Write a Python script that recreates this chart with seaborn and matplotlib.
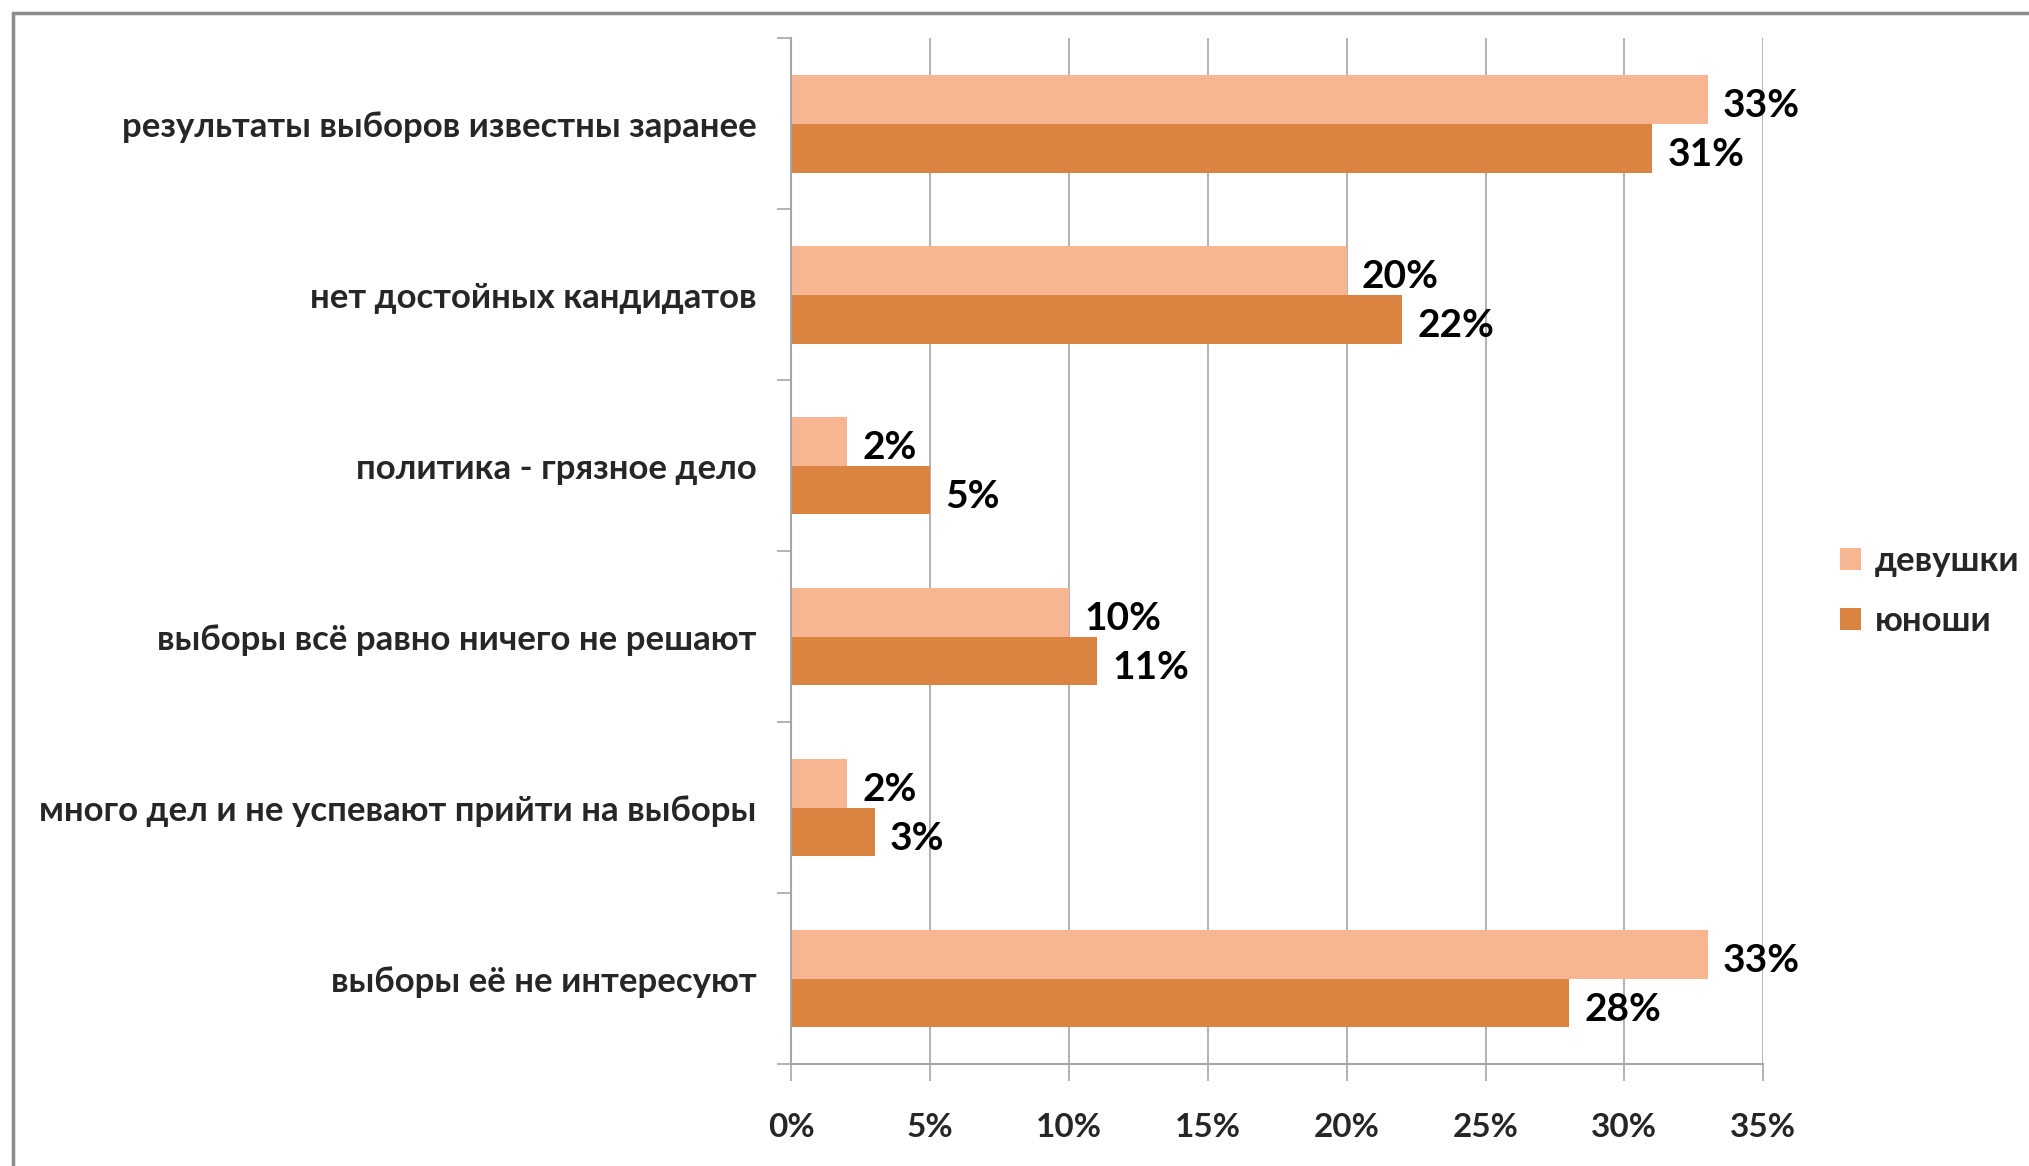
import pandas as pd
import numpy as np
import matplotlib
matplotlib.use("Agg")
import matplotlib.pyplot as plt
import seaborn as sns
from matplotlib.patches import Rectangle

# data (top to bottom)
categories = [
    "результаты выборов известны заранее",
    "нет достойных кандидатов",
    "политика - грязное дело",
    "выборы всё равно ничего не решают",
    "много дел и не успевают прийти на выборы",
    "выборы её не интересуют",
]
girls = [33, 20, 2, 10, 2, 33]
boys = [31, 22, 5, 11, 3, 28]
series_names = ["девушки", "юноши"]
x_ticks = [0, 5, 10, 15, 20, 25, 30, 35]

colors = ["#F8B592", "#DB8340"]

df = pd.DataFrame({
    "category": categories * 2,
    "value": girls + boys,
    "group": [series_names[0]] * len(categories) + [series_names[1]] * len(categories),
})

sns.set_style("white")
plt.rcParams["font.family"] = ["Lato", "DejaVu Sans"]
plt.rcParams["font.weight"] = "bold"

fig = plt.figure(figsize=(20.29, 11.66), dpi=100)
ax = fig.add_axes([0.390, 0.0875, 0.479, 0.8795])

sns.barplot(data=df, x="value", y="category", hue="group", orient="h",
            palette=colors, width=0.57, saturation=1, ax=ax,
            edgecolor="none", linewidth=0)

for cont in ax.containers:
    anns = ax.bar_label(cont, labels=[f"{v:.0f}%" for v in cont.datavalues],
                        padding=11, fontsize=28, fontweight="bold", color="black")
    # nudge the labels down a little, as in the original
    for a in anns:
        a.xyann = (a.xyann[0], -4.5)

ax.set_xlim(0, 35)
ax.set_ylim(len(categories) - 0.5, -0.5)
ax.set_xticks(x_ticks)
ax.set_xticklabels([f"{t}%" for t in x_ticks])
ax.set_xlabel("")
ax.set_ylabel("")

ax.grid(axis="x", color="#A6A6A6", linewidth=1.2)
ax.set_axisbelow(True)
for side in ["top", "right"]:
    ax.spines[side].set_visible(False)
for side in ["left", "bottom"]:
    ax.spines[side].set_color("#A6A6A6")
    ax.spines[side].set_linewidth(1.5)

ax.tick_params(axis="x", length=12, width=1.2, color="#A6A6A6", pad=23,
               labelsize=24, direction="out", bottom=True)
ax.tick_params(axis="y", length=0, pad=25, labelsize=25)
ax.set_yticks(np.arange(-0.5, len(categories) + 0.5, 1), minor=True)
ax.tick_params(axis="y", which="minor", length=10, width=1.2,
               color="#A6A6A6", left=True)
for lab in ax.get_xticklabels() + ax.get_yticklabels():
    lab.set_fontweight("bold")

leg = ax.legend(loc="center left", bbox_to_anchor=(0.907, 0.493),
                bbox_transform=fig.transFigure, frameon=False,
                fontsize=25, handlelength=0.6, handleheight=0.6,
                handletextpad=0.4, labelspacing=0.8, borderpad=0,
                borderaxespad=0)
for t in leg.get_texts():
    t.set_fontweight("bold")

fig.patches.append(Rectangle((0.0065, -0.02), 1.1, 1.009, transform=fig.transFigure,
                             fill=False, edgecolor="#8C8C8C", linewidth=2.5))

fig.savefig("out.png", dpi=100)
